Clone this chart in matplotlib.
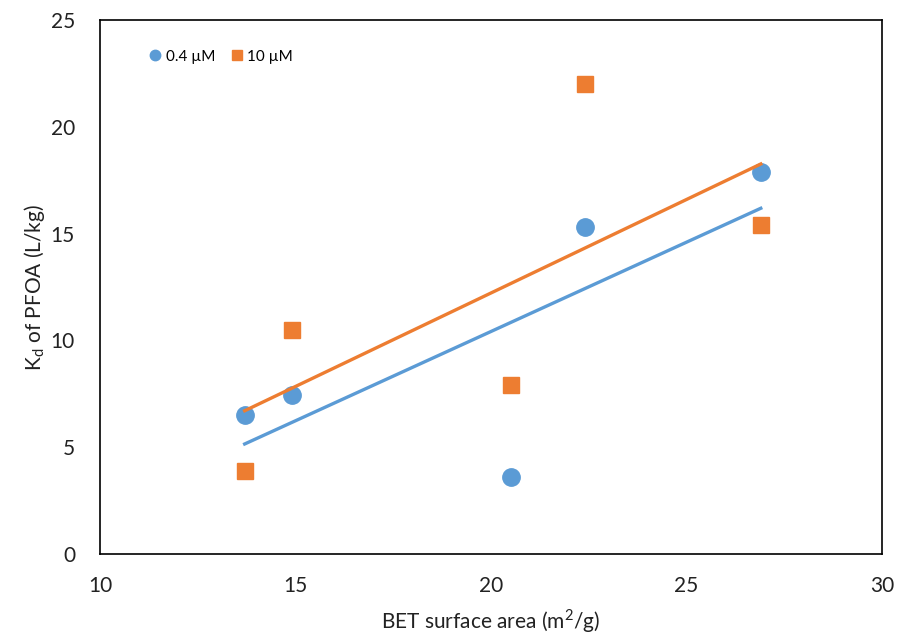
import numpy as np
import matplotlib.pyplot as plt

plt.rcParams['font.family'] = ['Lato', 'DejaVu Sans']
plt.rcParams['mathtext.fontset'] = 'custom'
plt.rcParams['mathtext.rm'] = 'Lato'

# Daten
bet = [13.7, 14.9, 20.5, 22.4, 26.9]
kd_04 = [6.5, 7.45, 3.6, 15.3, 17.9]
kd_10 = [3.9, 10.5, 7.9, 22.0, 15.4]

blue = "#5B9BD5"
orange = "#ED7D31"

fig = plt.figure(figsize=(8.99, 6.36), dpi=100)
ax = fig.add_axes([100/899, 1-554/636, (882-100)/899, (554-20)/636])

ax.plot(bet, kd_04, "o", color=blue, markersize=12.5, label="0.4 µM", zorder=2)
ax.plot(bet, kd_10, "s", color=orange, markersize=11.5, label="10 µM", zorder=2)

# lineare Trendlinien
x = np.array(bet)
xs = np.array([x.min(), x.max()])
for y, c in [(kd_04, blue), (kd_10, orange)]:
    p = np.polyfit(x, y, 1)
    ax.plot(xs, np.polyval(p, xs), color=c, linewidth=2.4, zorder=3)

ax.set_xlim(10, 30)
ax.set_ylim(0, 25)
ax.set_xticks([10, 15, 20, 25, 30])
ax.set_yticks([0, 5, 10, 15, 20, 25])
ax.tick_params(length=0, labelsize=15, colors="#222222")
ax.tick_params(axis="x", pad=16)
ax.tick_params(axis="y", pad=18)
for s in ax.spines.values():
    s.set_linewidth(1.2)

ax.set_xlabel(r"BET surface area (m$^\mathregular{2}$/g)", fontsize=15, labelpad=8, color="#222222")
ax.set_ylabel(r"K$_\mathregular{d}$ of PFOA (L/kg)", fontsize=15, labelpad=3, color="#222222")

ax.legend(loc="upper left", bbox_to_anchor=(0.045, 0.97), ncol=2, frameon=False,
          fontsize=11, markerscale=0.6, handlelength=0.8, handletextpad=0.3,
          columnspacing=1.0)

fig.savefig("out.png", dpi=100)
